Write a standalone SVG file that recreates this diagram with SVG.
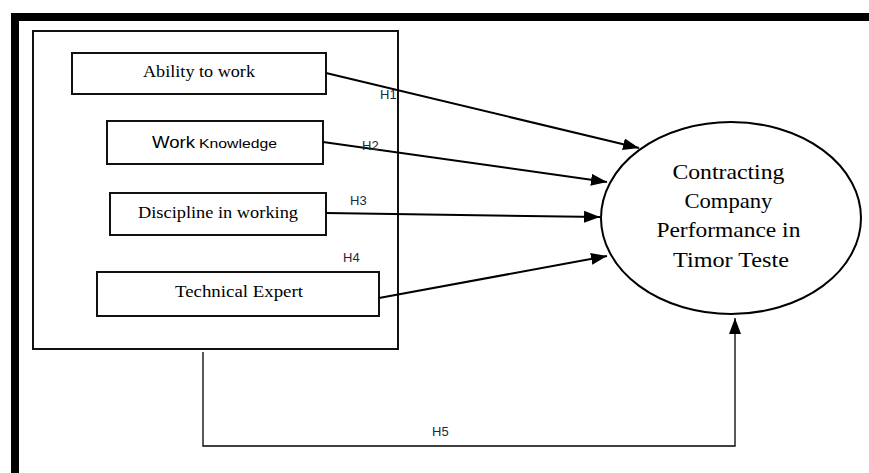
<svg xmlns="http://www.w3.org/2000/svg" width="869" height="473" viewBox="0 0 869 473">
<style>
.box{fill:#fff;stroke:#111;stroke-width:2}
.conn{fill:none;stroke:#000;stroke-width:2}
.thin{fill:none;stroke:#000;stroke-width:1.3}
.serif{font-family:"Liberation Serif","DejaVu Serif",serif;fill:#000}
.sans{font-family:"Liberation Sans","DejaVu Sans",sans-serif;fill:#000}
.lab{font-family:"Liberation Sans","DejaVu Sans",sans-serif;font-size:13px;fill:#1b2940}
</style>
<defs>
<marker id="ah" markerUnits="userSpaceOnUse" markerWidth="18" markerHeight="14" refX="16" refY="6" orient="auto">
<path d="M0,0 L16,6 L0,12 Z" fill="#000"/>
</marker>
</defs>
<rect x="11" y="13" width="858" height="8" fill="#000"/>
<rect x="11" y="13" width="8" height="460" fill="#000"/>
<rect id="frame" x="33" y="31" width="365" height="318" fill="none" stroke="#111" stroke-width="2"/>
<g id="n1"><rect class="box" x="72" y="53" width="254" height="41"/>
<text class="serif" x="199" y="77" font-size="16" text-anchor="middle" textLength="112" lengthAdjust="spacingAndGlyphs">Ability to work</text></g>
<g id="n2"><rect class="box" x="107" y="121" width="216" height="43"/>
<text class="sans" x="152" y="148"><tspan font-size="16" textLength="43" lengthAdjust="spacingAndGlyphs">Work</tspan><tspan x="199" font-size="13.5" textLength="78" lengthAdjust="spacingAndGlyphs">Knowledge</tspan></text></g>
<g id="n3"><rect class="box" x="110" y="193" width="216" height="42"/>
<text class="serif" x="218" y="218" font-size="16" text-anchor="middle" textLength="160" lengthAdjust="spacingAndGlyphs">Discipline in working</text></g>
<g id="n4"><rect class="box" x="97" y="272" width="282" height="44"/>
<text class="serif" x="239" y="297" font-size="16" text-anchor="middle" textLength="128" lengthAdjust="spacingAndGlyphs">Technical Expert</text></g>
<g id="n5"><ellipse cx="731" cy="218" rx="130" ry="96" fill="#fff" stroke="#000" stroke-width="2"/>
<text class="serif" font-size="21" text-anchor="middle">
<tspan x="731" y="179" textLength="112" lengthAdjust="spacingAndGlyphs">Contracting</tspan>
<tspan x="731" y="208" textLength="88" lengthAdjust="spacingAndGlyphs">Company</tspan>
<tspan x="731" y="237" textLength="144" lengthAdjust="spacingAndGlyphs">Performance in</tspan>
<tspan x="731" y="267" textLength="116" lengthAdjust="spacingAndGlyphs">Timor Teste</tspan>
</text></g>
<g id="connectors">
<line class="conn" x1="326" y1="73" x2="639" y2="148" marker-end="url(#ah)"/>
<line class="conn" x1="323" y1="142" x2="607" y2="182" marker-end="url(#ah)"/>
<line class="conn" x1="326" y1="213" x2="600" y2="217" stroke-width="1.6" marker-end="url(#ah)"/>
<line class="conn" x1="379" y1="298" x2="607" y2="256" marker-end="url(#ah)"/>
<polyline class="thin" points="203,352 203,446 735,446 735,334"/>
<line class="thin" x1="735" y1="334" x2="735" y2="318" marker-end="url(#ah)"/>
<text class="lab" x="380" y="99">H1</text>
<text class="lab" x="362" y="150">H2</text>
<text class="lab" x="350" y="205">H3</text>
<text class="lab" x="343" y="262">H4</text>
<text class="lab" x="432" y="436">H5</text>
</g>
</svg>
